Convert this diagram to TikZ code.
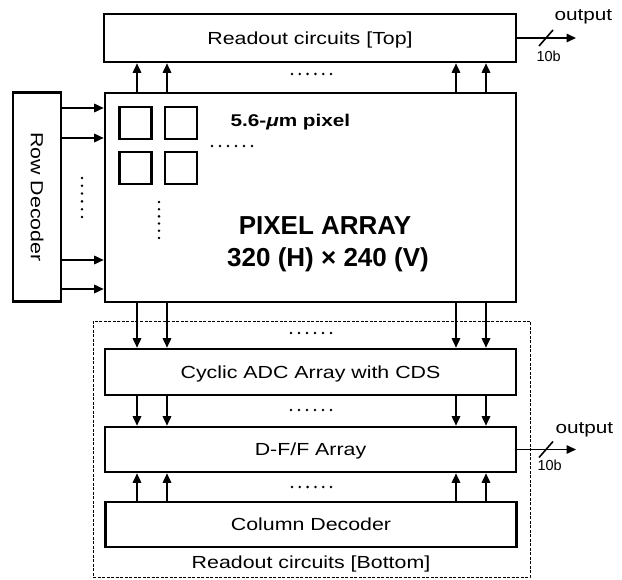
\documentclass[tikz,border=0pt]{standalone}
\usepackage{fontspec}
\setmainfont{Liberation Sans}
\newfontfamily\labfont[FakeStretch=1.22]{Liberation Sans}
\usetikzlibrary{arrows.meta,calc}
\begin{document}
\begin{tikzpicture}[x=1pt,y=-1pt,
  lab/.style={font=\labfont\fontsize{17.5}{20}\selectfont},
  box/.style={draw,line width=2.6pt,inner sep=0pt,text height=12.4pt,text depth=0pt,lab},
  sq/.style={draw,line width=2.6pt,minimum size=32pt,inner sep=0pt},
  arr/.style={line width=1.6pt,-{Triangle[length=9.5pt,width=8.5pt]}},
  slash/.style={line width=1.6pt},
  outlab/.style={anchor=base west,font=\labfont\fontsize{17}{20}\selectfont},
  blab/.style={anchor=base west,font=\fontsize{14.5}{16}\selectfont},
  title/.style={anchor=base,font=\bfseries\fontsize{26}{30}\selectfont},
  dashbox/.style={draw,dash pattern=on 3pt off 1.5pt,line width=0.9pt,inner sep=0pt}]
\useasboundingbox (0,0) rectangle (622,580);
% boxes
\node[box,minimum width=412pt,minimum height=48pt] (top) at (310,38) {Readout circuits [Top]};
\node[box,rotate=-90,minimum width=209pt,minimum height=48pt] (row) at (37,197) {Row Decoder};
\node[box,minimum width=411pt,minimum height=209pt] (pix) at (310.5,197.5) {};
\node[dashbox,minimum width=437pt,minimum height=256pt] (ro) at (311.5,449) {};
\node[box,minimum width=411pt,minimum height=46pt] (adc) at (310.5,372) {Cyclic ADC Array with CDS};
\node[box,minimum width=411pt,minimum height=45pt] (dff) at (310.5,449.5) {D-F/F Array};
\node[box,minimum width=411pt,minimum height=45pt] (col) at (311,524.5) {Column Decoder};
\node[lab,anchor=base] (rolab) at (311,568) {Readout circuits [Bottom]};
% pixels
\node[sq] (p11) at (135.5,123) {};
\node[sq] (p12) at (181,123) {};
\node[sq] (p21) at (135.5,168) {};
\node[sq] (p22) at (181,168) {};
\node[anchor=base west,font=\labfont\bfseries\fontsize{17}{20}\selectfont] (plab) at (227,127) {5.6-{\itshape μ}m pixel};
\node[title] (t1) at (325,235) {PIXEL ARRAY};
\node[title] (t2) at (328,267) {320 (H) × 240 (V)};
% column coordinates
\coordinate (c1) at (137,0);
\coordinate (c2) at (167,0);
\coordinate (c3) at (456,0);
\coordinate (c4) at (486,0);
\foreach \c in {c1,c2,c3,c4}{
  \draw[arr] (pix.north -| \c) -- (top.south -| \c);
  \draw[arr] (pix.south -| \c) -- (adc.north -| \c);
  \draw[arr] (adc.south -| \c) -- (dff.north -| \c);
  \draw[arr] (col.north -| \c) -- (dff.south -| \c);
}
% row arrows
\coordinate (r1) at (0,108);
\coordinate (r2) at (0,138);
\coordinate (r3) at (0,260);
\coordinate (r4) at (0,289);
\foreach \r in {r1,r2,r3,r4}{
  \draw[arr] (row.north |- \r) -- (pix.west |- \r);
}
% outputs
\coordinate (o1) at (576,38);
\draw[arr] (top.east) -- (o1);
\coordinate (s1) at (546,38);
\draw[slash] ($(s1)+(-7,8)$) -- ($(s1)+(7,-8)$);
\node[outlab] (out1) at (551,21) {output};
\node[blab] (b1) at (533,62) {10b};
\coordinate (o2) at (576,449.5);
\draw[arr] (dff.east) -- (o2);
\coordinate (s2) at (546,449.5);
\draw[slash] ($(s2)+(-7,8)$) -- ($(s2)+(7,-8)$);
\node[outlab] (out2) at (552,433) {output};
\node[blab] (b2) at (534,470) {10b};
% dots
\foreach \i in {0,...,5}{
  \fill (292+\i*7.8,74) circle (1.4pt);
  \fill (291+\i*8,333) circle (1.4pt);
  \fill (291+\i*8,410) circle (1.4pt);
  \fill (292+\i*7.8,487) circle (1.4pt);
  \fill (212+\i*8,146) circle (1.4pt);
  \fill (159,202+\i*7.2) circle (1.4pt);
  \fill (82,178+\i*7.8) circle (1.4pt);
}
\end{tikzpicture}
\end{document}
